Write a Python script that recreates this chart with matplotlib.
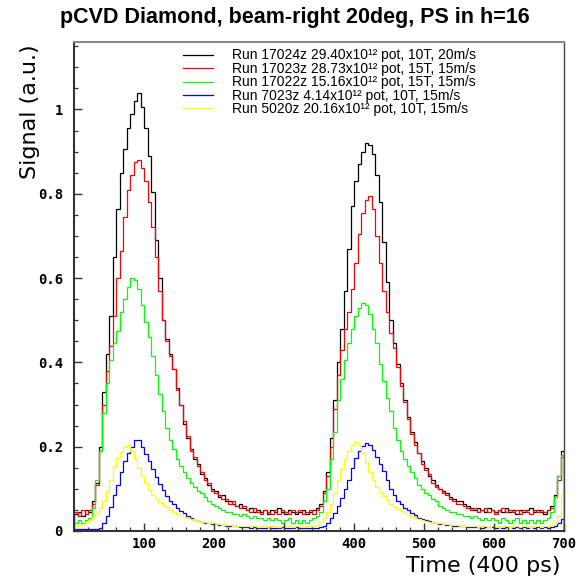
import numpy as np
import matplotlib
matplotlib.use("Agg")
import matplotlib.pyplot as plt

# ---------------- data (bins of 5 time units, 0..700) ----------------
bin_edges = np.arange(0, 705, 5)

run_17024 = [
    0.040,0.045,0.035,0.050,0.045,0.070,0.115,0.200,0.330,0.420,
    0.510,0.650,0.765,0.850,0.905,0.955,0.990,1.020,1.040,1.005,
    0.955,0.890,0.805,0.690,0.600,0.500,0.455,0.420,0.385,0.340,
    0.300,0.255,0.220,0.195,0.170,0.160,0.135,0.125,0.110,0.100,
    0.095,0.080,0.085,0.070,0.070,0.065,0.060,0.065,0.055,0.050,
    0.055,0.045,0.050,0.045,0.050,0.040,0.050,0.045,0.055,0.045,
    0.040,0.050,0.045,0.040,0.045,0.050,0.040,0.045,0.050,0.055,
    0.065,0.095,0.140,0.220,0.310,0.400,0.480,0.570,0.670,0.770,
    0.830,0.870,0.900,0.920,0.915,0.895,0.845,0.780,0.685,0.590,
    0.500,0.445,0.395,0.350,0.310,0.270,0.235,0.210,0.185,0.165,
    0.150,0.130,0.120,0.110,0.100,0.095,0.090,0.080,0.075,0.070,
    0.070,0.065,0.060,0.055,0.050,0.055,0.050,0.045,0.055,0.050,
    0.045,0.050,0.045,0.055,0.045,0.050,0.040,0.050,0.045,0.050,
    0.055,0.045,0.050,0.045,0.040,0.050,0.060,0.085,0.130,0.190,
]
run_17023 = [
    0.045,0.035,0.050,0.040,0.050,0.065,0.110,0.190,0.300,0.380,
    0.440,0.510,0.600,0.665,0.745,0.810,0.845,0.875,0.880,0.860,
    0.830,0.780,0.720,0.650,0.570,0.500,0.450,0.415,0.385,0.335,
    0.300,0.260,0.225,0.190,0.175,0.155,0.140,0.120,0.115,0.095,
    0.090,0.085,0.075,0.075,0.065,0.070,0.060,0.055,0.060,0.050,
    0.045,0.055,0.045,0.040,0.050,0.045,0.040,0.050,0.040,0.050,
    0.045,0.040,0.050,0.045,0.050,0.040,0.045,0.050,0.040,0.050,
    0.060,0.090,0.130,0.200,0.290,0.370,0.430,0.480,0.520,0.575,
    0.635,0.705,0.755,0.785,0.795,0.765,0.700,0.635,0.570,0.520,
    0.470,0.435,0.390,0.345,0.305,0.265,0.230,0.205,0.185,0.160,
    0.145,0.135,0.115,0.105,0.100,0.090,0.085,0.075,0.070,0.065,
    0.065,0.060,0.055,0.050,0.055,0.045,0.050,0.055,0.045,0.050,
    0.040,0.050,0.055,0.045,0.050,0.045,0.050,0.040,0.050,0.045,
    0.040,0.050,0.045,0.050,0.045,0.050,0.055,0.080,0.120,0.175,
]
run_17022 = [
    0.020,0.025,0.020,0.025,0.030,0.055,0.120,0.190,0.280,0.350,
    0.405,0.445,0.475,0.520,0.550,0.580,0.600,0.595,0.575,0.535,
    0.495,0.460,0.415,0.370,0.325,0.285,0.245,0.215,0.195,0.170,
    0.155,0.140,0.125,0.115,0.105,0.095,0.090,0.080,0.070,0.065,
    0.060,0.055,0.050,0.045,0.045,0.040,0.040,0.035,0.040,0.035,
    0.030,0.035,0.030,0.030,0.025,0.030,0.025,0.030,0.025,0.020,
    0.025,0.030,0.020,0.025,0.020,0.025,0.020,0.025,0.030,0.035,
    0.045,0.070,0.100,0.170,0.235,0.310,0.360,0.405,0.445,0.480,
    0.510,0.530,0.540,0.535,0.515,0.480,0.445,0.395,0.355,0.315,
    0.285,0.245,0.215,0.190,0.170,0.155,0.140,0.125,0.110,0.100,
    0.090,0.085,0.075,0.070,0.060,0.055,0.050,0.045,0.045,0.040,
    0.040,0.035,0.035,0.030,0.035,0.030,0.025,0.030,0.025,0.030,
    0.025,0.020,0.030,0.025,0.020,0.025,0.030,0.020,0.025,0.020,
    0.025,0.020,0.025,0.020,0.025,0.030,0.045,0.080,0.130,0.180,
]
run_7023 = [
    0.005,0.004,0.005,0.004,0.005,0.004,0.005,0.007,0.018,0.035,
    0.058,0.085,0.110,0.140,0.167,0.185,0.200,0.215,0.215,0.200,
    0.183,0.165,0.148,0.128,0.112,0.097,0.083,0.072,0.063,0.055,
    0.048,0.042,0.036,0.031,0.027,0.024,0.022,0.020,0.018,0.017,
    0.016,0.015,0.014,0.013,0.012,0.011,0.011,0.010,0.009,0.009,
    0.008,0.009,0.008,0.007,0.008,0.009,0.008,0.007,0.008,0.009,
    0.008,0.007,0.008,0.009,0.008,0.007,0.008,0.007,0.008,0.007,
    0.009,0.013,0.020,0.031,0.042,0.060,0.078,0.100,0.122,0.150,
    0.172,0.190,0.202,0.208,0.205,0.192,0.176,0.160,0.142,0.120,
    0.100,0.085,0.072,0.063,0.055,0.050,0.043,0.037,0.032,0.028,
    0.025,0.023,0.021,0.019,0.017,0.016,0.015,0.014,0.013,0.012,
    0.011,0.011,0.010,0.009,0.010,0.009,0.008,0.009,0.010,0.009,
    0.008,0.009,0.008,0.009,0.010,0.008,0.009,0.008,0.009,0.008,
    0.009,0.008,0.009,0.008,0.009,0.008,0.010,0.012,0.018,0.028,
]
run_5020 = [
    0.012,0.014,0.017,0.022,0.027,0.033,0.042,0.055,0.072,0.095,
    0.122,0.152,0.172,0.188,0.200,0.203,0.190,0.170,0.150,0.130,
    0.113,0.098,0.086,0.077,0.069,0.062,0.056,0.050,0.045,0.041,
    0.037,0.033,0.030,0.028,0.026,0.024,0.022,0.021,0.019,0.018,
    0.017,0.016,0.015,0.014,0.014,0.013,0.013,0.012,0.012,0.011,
    0.012,0.011,0.010,0.011,0.012,0.010,0.011,0.012,0.010,0.011,
    0.011,0.012,0.010,0.011,0.012,0.010,0.011,0.012,0.012,0.015,
    0.022,0.032,0.045,0.065,0.090,0.120,0.148,0.170,0.190,0.205,
    0.212,0.205,0.185,0.163,0.140,0.122,0.105,0.093,0.082,0.073,
    0.065,0.058,0.052,0.047,0.042,0.038,0.034,0.031,0.028,0.026,
    0.024,0.022,0.021,0.019,0.018,0.017,0.016,0.015,0.014,0.014,
    0.013,0.012,0.012,0.011,0.012,0.010,0.011,0.012,0.010,0.011,
    0.012,0.010,0.011,0.012,0.010,0.011,0.012,0.010,0.011,0.012,
    0.010,0.011,0.012,0.010,0.011,0.012,0.014,0.020,0.035,0.085,
]

series = [run_17024, run_17023, run_17022, run_7023, run_5020]
labels = [
    "Run 17024z 29.40x10\u00b9\u00b2 pot, 10T, 20m/s",
    "Run 17023z 28.73x10\u00b9\u00b2 pot, 15T, 15m/s",
    "Run 17022z 15.16x10\u00b9\u00b2 pot, 15T, 15m/s",
    "Run 7023z 4.14x10\u00b9\u00b2 pot, 10T, 15m/s",
    "Run 5020z 20.16x10\u00b9\u00b2 pot, 10T, 15m/s",
]
colors = ["#000000", "#ff0000", "#00ff00", "#0000ff", "#ffff00"]

x_ticks = [100, 200, 300, 400, 500, 600, 700]
x_ticklabels = ["100", "200", "300", "400", "500", "600", "700"]
y_ticks = [0, 0.2, 0.4, 0.6, 0.8, 1.0]
y_ticklabels = ["0", "0.2", "0.4", "0.6", "0.8", "1"]

# ---------------- figure ----------------
W, H = 583, 582
fig = plt.figure(figsize=(W / 100, H / 100), dpi=100)
ax = fig.add_axes([74 / W, 1 - 531 / H, (564 - 74) / W, (531 - 42) / H])

for vals, lab, col in zip(series, labels, colors):
    ax.stairs(vals, bin_edges, color=col, lw=0.9, label=lab)

ax.set_xlim(0, 700)
ax.set_ylim(0, 1.16)

ax.set_xticks(x_ticks)
ax.set_xticklabels(x_ticklabels)
ax.set_yticks(y_ticks)
ax.set_yticklabels(y_ticklabels)
ax.set_xticks(np.arange(20, 700, 20), minor=True)
ax.set_yticks(np.arange(0.05, 1.16, 0.05), minor=True)

ax.tick_params(which='both', direction='in', top=False, right=False, color='#333333')
ax.tick_params(which='major', length=6, width=1.0)
ax.tick_params(which='minor', length=3, width=0.9)
ax.tick_params(axis='y', which='major', pad=8)
ax.tick_params(axis='x', which='major', pad=4)
for lab in ax.get_xticklabels() + ax.get_yticklabels():
    lab.set_fontfamily('DejaVu Sans Mono')
    lab.set_fontweight('bold')
    lab.set_fontsize(10)

ax.spines['left'].set_color('#333333')
ax.spines['left'].set_linewidth(1.5)
ax.spines['bottom'].set_color('#333333')
ax.spines['bottom'].set_linewidth(1.5)
ax.spines['top'].set_color('#888888')
ax.spines['top'].set_linewidth(1.5)
ax.spines['right'].set_color('#444444')
ax.spines['right'].set_linewidth(1.0)

leg = ax.legend(loc='upper left', bbox_to_anchor=(183 / W, 1 - 48.5 / H),
                bbox_transform=fig.transFigure, frameon=False,
                prop={'family': 'Liberation Sans', 'size': 10.0},
                handlelength=2.15, handletextpad=1.35, labelspacing=-0.04,
                borderpad=0, borderaxespad=0)

fig.text(0.505, 1 - 18 / H, "pCVD Diamond, beam-right 20deg, PS in h=16",
         ha='center', va='center', fontsize=15.5, fontweight='bold',
         family='Liberation Sans')
fig.text(30 / W, 1 - 44 / H, "Signal (a.u.)", rotation=90, ha='center', va='top',
         fontsize=16, family='DejaVu Sans')
fig.text(561 / W, 1 - 566 / H, "Time (400 ps)", ha='right', va='center',
         fontsize=16, family='DejaVu Sans')

fig.savefig("out.png", dpi=100)
